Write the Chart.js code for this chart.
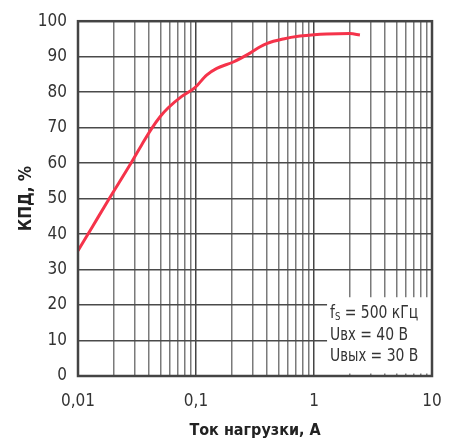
<!DOCTYPE html>
<html>
<head>
<meta charset="utf-8">
<script src="https://cdnjs.cloudflare.com/ajax/libs/Chart.js/4.4.1/chart.umd.min.js"></script>
<style>
  html, body { margin: 0; padding: 0; background: #fff; }
  #wrap { width: 459px; height: 442px; position: relative; }
</style>
</head>
<body>
<div id="wrap"><canvas id="myChart" width="459" height="442"></canvas></div>
<script>
// load current, A (log axis)
var loadCurrent = [0.01, 0.0131, 0.0181, 0.0285, 0.035, 0.0422, 0.05, 0.0582, 0.0757, 0.098,
                   0.123, 0.15, 0.207, 0.287, 0.35, 0.397, 0.55, 0.76, 1.0, 1.28, 2.02, 2.45];
// efficiency, %
var efficiency = [35.3, 41.8, 49.6, 60.3, 65.4, 69.8, 73.2, 75.6, 78.8, 81.3,
                  84.8, 86.7, 88.5, 91.0, 92.8, 93.7, 95.0, 95.8, 96.2, 96.4, 96.5, 96.1];

var xTicks = [0.01, 0.02, 0.03, 0.04, 0.05, 0.06, 0.07, 0.08, 0.09,
              0.1, 0.2, 0.3, 0.4, 0.5, 0.6, 0.7, 0.8, 0.9,
              1, 2, 3, 4, 5, 6, 7, 8, 9, 10];
var xMajor = [0.01, 0.1, 1, 10];
var xMajorLabels = ['0,01', '0,1', '1', '10'];

var noteLines = [
    ['f', 'S', ' = 500 кГц'],
    ['U', 'вх', ' = 40 В'],
    ['U', 'вых', ' = 30 В']
];

var FONT = '"DejaVu Sans Condensed", "Liberation Sans", sans-serif';

function majorIndex(v) {
    return xMajor.findIndex(function (m) { return Math.abs(v - m) < m * 1e-6; });
}

var frame = {
    id: 'frame',
    beforeDatasetsDraw: function (chart) {
        var ctx = chart.ctx, x = chart.scales.x, y = chart.scales.y, a = chart.chartArea;
        // white note box
        var left = x.getPixelForValue(1.29);
        var top = y.getPixelForValue(22.2);
        var bottom = y.getPixelForValue(0.7);
        ctx.save();
        ctx.fillStyle = '#fff';
        ctx.fillRect(left, top, a.right - left, bottom - top);
        ctx.fillStyle = '#333';
        ctx.textBaseline = 'alphabetic';
        var sx = 0.86;
        ctx.translate(left + 3, top + 21);
        ctx.scale(sx, 1);
        noteLines.forEach(function (ln, i) {
            var cx = 0, by = i * 21.5;
            ctx.font = '18px ' + FONT;
            ctx.fillText(ln[0], cx, by);
            cx += ctx.measureText(ln[0]).width;
            if (i === 0) {
                ctx.font = '11px ' + FONT;
                ctx.fillText(ln[1], cx, by + 2);
            } else {
                ctx.font = '17px ' + FONT;
                ctx.fillText(ln[1], cx, by);
            }
            cx += ctx.measureText(ln[1]).width;
            ctx.font = '18px ' + FONT;
            ctx.fillText(ln[2], cx, by);
        });
        ctx.restore();
    },
    afterDraw: function (chart) {
        var ctx = chart.ctx, a = chart.chartArea;
        ctx.save();
        ctx.strokeStyle = '#444';
        ctx.lineWidth = 2.5;
        ctx.strokeRect(a.left, a.top, a.right - a.left, a.bottom - a.top);
        ctx.restore();
    }
};

var ctx = document.getElementById('myChart').getContext('2d');
var chart = new Chart(ctx, {
    type: 'line',
    data: {
        datasets: [{
            data: loadCurrent.map(function (v, i) { return { x: v, y: efficiency[i] }; }),
            borderColor: '#f5334a',
            borderWidth: 3,
            pointRadius: 0,
            cubicInterpolationMode: 'monotone',
            fill: false
        }]
    },
    options: {
        responsive: false,
        animation: false,
        layout: { padding: { top: 16, right: 27, left: 0, bottom: 0 } },
        plugins: { legend: { display: false }, tooltip: { enabled: false } },
        scales: {
            x: {
                type: 'logarithmic',
                min: 0.01,
                max: 10,
                afterBuildTicks: function (s) {
                    s.ticks = xTicks.map(function (v) { return { value: v, major: majorIndex(v) >= 0 }; });
                },
                afterFit: function (s) { s.height = 66; },
                grid: {
                    drawTicks: false,
                    color: function (c) { return c.tick && c.tick.major ? '#444' : '#7a7a7a'; },
                    lineWidth: 1.5
                },
                border: { display: false },
                ticks: {
                    autoSkip: false,
                    maxRotation: 0,
                    padding: 15,
                    color: '#333',
                    font: { family: FONT, size: 17 },
                    callback: function (v) {
                        var i = majorIndex(v);
                        return i >= 0 ? xMajorLabels[i] : '';
                    }
                },
                title: {
                    display: true,
                    text: 'Ток нагрузки, А',
                    color: '#222',
                    font: { family: FONT, size: 16, weight: 'bold' },
                    padding: { top: 0, bottom: 2 }
                }
            },
            y: {
                min: 0,
                max: 100,
                afterFit: function (s) { s.width = 78; },
                grid: { drawTicks: false, color: '#4a4a4a', lineWidth: 1.5 },
                border: { display: false },
                ticks: {
                    stepSize: 10,
                    padding: 11,
                    color: '#333',
                    font: { family: FONT, size: 17 }
                },
                title: {
                    display: true,
                    text: 'КПД, %',
                    color: '#222',
                    font: { family: FONT, size: 17, weight: 'bold' },
                    padding: { top: 16, bottom: 0 }
                }
            }
        }
    },
    plugins: [frame]
});
</script>
</body>
</html>
